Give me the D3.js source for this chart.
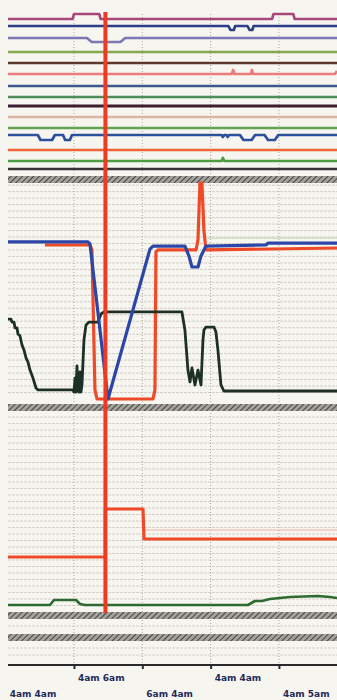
<!DOCTYPE html>
<html>
<head>
<meta charset="utf-8">
<script src="https://cdn.jsdelivr.net/npm/d3@7"></script>
<style>
  html, body { margin: 0; padding: 0; background: #f7f5f0; }
  svg { display: block; }
</style>
</head>
<body>
<svg id="chart"></svg>
<script>
// ---- data (time in minutes from chart start) ----
const tickTimes = [10, 20, 30, 40];
const labelTimes = [4, 14, 24, 34, 44];
const labelTexts = ["4am 4am", "4am 6am", "6am 4am", "4am 4am", "4am 5am"];
const cursorTime = 14.6;

// top panel: digital / status pens, baseline offsets (% of strip) and colours
const penBase = [157, 150, 138, 124, 113, 102, 90, 79, 70, 59, 48, 41, 26, 15, 7];
const penColors = ["#a8487a", "#2c3f86", "#7c78b4", "#86a84c", "#5c3a2a", "#ec7c7c", "#3c5a8c",
                   "#4e8c5a", "#3c2030", "#dcb4a4", "#62a452", "#2c509c", "#f0643a", "#4c9c42", "#343434"];
// deviations from baseline for the pens that move: [time, deviation]
const penMoves = {
  0: [[0.34, 0], [9.8, 0], [10.0, 5], [13.7, 5], [13.9, 0], [39.0, 0], [39.2, 5], [42.1, 5], [42.3, 0], [48.5, 0]],
  1: [[0.34, 0], [32.6, 0], [32.9, -4], [33.4, -4], [33.6, 0], [35.4, 0], [35.7, -4], [36.1, -4], [36.3, 0], [48.5, 0]],
  2: [[0.34, 0], [11.9, 0], [12.6, -4], [16.8, -4], [17.5, 0], [48.5, 0]],
  5: [[0.34, 0], [33.1, 0], [33.3, 4], [33.5, 0], [35.9, 0], [36.05, 4], [36.2, 0], [48.2, 0], [48.5, 3]],
  11: [[0.34, 0], [4.7, 0], [5.1, -5], [6.8, -5], [7.2, 0], [8.4, 0], [8.7, -5], [9.4, -5], [9.7, 0],
       [31.6, 0], [31.8, -2], [32.0, 0], [32.3, 0], [32.5, -2], [32.7, 0], [34.3, 0], [34.8, -5], [36.0, -5], [36.5, 0],
       [37.9, 0], [38.4, -5], [39.4, -5], [39.9, 0], [48.5, 0]],
  13: [[0.34, 0], [31.6, 0], [31.8, 3], [32.0, 0], [48.5, 0]]
};

// middle panel (0-100 %)
const midBlue = [[0.34, 72.7], [12.05, 72.7], [12.34, 71.8], [14.98, 0], [21.12, 69.4], [21.56, 70.8], [26.24, 70.8],
  [26.83, 66.2], [27.27, 61.1], [28.15, 61.1], [28.59, 66.2], [29.32, 70.8], [38.1, 71.3], [38.39, 72.2], [48.5, 72.2]];
const midRed = [[5.76, 71.3], [12.34, 71.3], [12.63, 69], [13.07, 4.2], [13.37, 0], [21.56, 0], [21.85, 4.2], [22.0, 68.1],
  [22.29, 69], [27.86, 69], [28.15, 73.6], [28.44, 100], [28.73, 100], [29.02, 78.2], [29.32, 69], [48.5, 69.9]];
const midBlack = [[0.34, 37], [0.78, 37], [0.93, 35.6], [1.22, 35.6], [1.37, 32.9], [1.66, 32.9], [1.8, 30.1], [2.1, 29.2],
  [2.39, 25], [2.68, 22.7], [2.98, 19], [3.27, 17.1], [3.56, 13.4], [4.0, 9.7], [4.44, 5.1], [4.73, 4.2], [9.85, 4.2],
  [10.0, 3.2], [10.15, 9.7], [10.29, 3.2], [10.44, 15.3], [10.58, 4.2], [10.73, 3.2], [10.88, 12.5], [11.02, 3.2],
  [11.17, 6.5], [11.46, 27.3], [11.76, 34.3], [12.19, 35.6], [13.51, 35.6], [13.95, 39.4], [14.39, 40.3], [25.8, 40.3],
  [26.24, 31.9], [26.68, 13.4], [26.98, 7.9], [27.27, 14.4], [27.71, 6.5], [28.15, 13.4], [28.59, 6.5], [28.88, 27.3],
  [29.02, 31.9], [29.32, 33.3], [30.49, 33.3], [30.78, 31], [31.07, 22.7], [31.51, 6.5], [31.95, 3.7], [48.5, 3.7]];
const midGreenFaint = [[29.5, 74.5], [48.5, 74.5]];

// bottom panel (0-100 %)
const lowRed = [[0.34, 27.5], [14.6, 27.5], [14.6, 51.5], [20.1, 51.5], [20.25, 36.5], [48.5, 36.5]];
const lowGreen = [[0.34, 3.5], [6.49, 3.5], [7.07, 6], [10.29, 6], [10.88, 4], [11.61, 3.5], [35.46, 3.5], [36.49, 5.5],
  [37.51, 5.5], [38.68, 6.5], [41.61, 7.5], [45.7, 8], [47.46, 7.5], [48.5, 7]];
const lowPinkFaint = [[20.3, 41], [48.5, 41]];

// ---- layout ----
const width = 337, height = 700;
const svg = d3.select("#chart").attr("width", width).attr("height", height);

const x = d3.scaleLinear().domain([0, 48.5]).range([5.67, 337]);
const yTop = d3.scaleLinear().domain([0, 160]).range([176, 16]);
const yMid = d3.scaleLinear().domain([0, 100]).range([399, 183]);
const yLow = d3.scaleLinear().domain([0, 100]).range([612, 412]);

// hatched band pattern
const defs = svg.append("defs");
const pat = defs.append("pattern").attr("id", "hatch").attr("patternUnits", "userSpaceOnUse")
  .attr("width", 4).attr("height", 4).attr("patternTransform", "rotate(45)");
pat.append("rect").attr("width", 4).attr("height", 4).attr("fill", "#a4a29c");
pat.append("line").attr("x1", 0).attr("y1", 0).attr("x2", 0).attr("y2", 4)
  .attr("stroke", "#444442").attr("stroke-width", 2);

const left = 8;

// faint horizontal rules (chart paper)
const faint = svg.append("g").attr("stroke", "#cfcbc2").attr("stroke-width", 0.9).attr("stroke-dasharray", "3,1");
d3.range(3, 100, 3).forEach(v => {
  faint.append("line").attr("x1", left).attr("x2", width).attr("y1", yMid(v)).attr("y2", yMid(v));
});
d3.range(3.25, 100, 3.25).forEach(v => {
  faint.append("line").attr("x1", left).attr("x2", width).attr("y1", yLow(v)).attr("y2", yLow(v));
});
[626, 648, 655].forEach(py => {
  faint.append("line").attr("x1", left).attr("x2", width).attr("y1", py).attr("y2", py);
});

// vertical time grid
svg.append("g").selectAll("line").data(tickTimes).join("line")
  .attr("x1", d => x(d)).attr("x2", d => x(d))
  .attr("y1", 14).attr("y2", 665)
  .attr("stroke", "#aaa69e").attr("stroke-width", 1).attr("stroke-dasharray", "1,2");

// hatched dividers
[[176, 7], [404, 7], [612, 7], [634, 7]].forEach(([py, h]) => {
  svg.append("rect").attr("x", left).attr("y", py).attr("width", width - left).attr("height", h)
    .attr("fill", "url(#hatch)");
});

// top pens
const penLine = base => d3.line().x(d => x(d[0])).y(d => yTop(base + d[1]));
penBase.forEach((b, i) => {
  const pts = penMoves[i] || [[0.34, 0], [48.5, 0]];
  svg.append("path").datum(pts)
    .attr("d", penLine(b))
    .attr("fill", "none")
    .attr("stroke", penColors[i])
    .attr("stroke-width", i === 8 ? 3.2 : 2.7)
    .attr("stroke-linejoin", "round");
});

// middle traces
const midLine = d3.line().x(d => x(d[0])).y(d => yMid(d[1]));
svg.append("path").datum(midGreenFaint).attr("d", midLine).attr("fill", "none")
  .attr("stroke", "#b8d8a8").attr("stroke-width", 1);
svg.append("path").datum(midRed).attr("d", midLine).attr("fill", "none")
  .attr("stroke", "#ee4a28").attr("stroke-width", 3.2).attr("stroke-linejoin", "round");
svg.append("path").datum(midBlack).attr("d", midLine).attr("fill", "none")
  .attr("stroke", "#1c3026").attr("stroke-width", 2.8).attr("stroke-linejoin", "round");
svg.append("path").datum(midBlue).attr("d", midLine).attr("fill", "none")
  .attr("stroke", "#2c46a8").attr("stroke-width", 3.2).attr("stroke-linejoin", "round");

// bottom traces
const lowLine = d3.line().x(d => x(d[0])).y(d => yLow(d[1]));
svg.append("path").datum(lowPinkFaint).attr("d", lowLine).attr("fill", "none")
  .attr("stroke", "#f0b0a8").attr("stroke-width", 1);
svg.append("path").datum(lowGreen).attr("d", lowLine).attr("fill", "none")
  .attr("stroke", "#2e6a30").attr("stroke-width", 2.6).attr("stroke-linejoin", "round");
svg.append("path").datum(lowRed).attr("d", lowLine).attr("fill", "none")
  .attr("stroke", "#ee4a28").attr("stroke-width", 3.2).attr("stroke-linejoin", "round");

// cursor
svg.append("line")
  .attr("x1", x(cursorTime)).attr("x2", x(cursorTime))
  .attr("y1", 12).attr("y2", yLow(0) + 1)
  .attr("stroke", "#ee3a22").attr("stroke-width", 4);

// time axis
const axis = svg.append("g").attr("transform", "translate(0,665)")
  .call(d3.axisBottom(x).tickValues(tickTimes).tickSize(4).tickFormat(""));
axis.select(".domain").attr("stroke", "#2a2a2a").attr("stroke-width", 2)
  .attr("d", `M${left},0H${width}`);
axis.selectAll(".tick line").attr("stroke", "#2a2a2a").attr("stroke-width", 2);

svg.append("g").selectAll("text").data(labelTimes).join("text")
  .attr("x", d => x(d))
  .attr("y", (d, i) => i % 2 === 0 ? 697 : 681)
  .attr("text-anchor", "middle")
  .attr("font-family", "DejaVu Sans, sans-serif")
  .attr("font-size", 9)
  .attr("font-weight", "bold")
  .attr("fill", "#1e2c5a")
  .text((d, i) => labelTexts[i]);
</script>
</body>
</html>
